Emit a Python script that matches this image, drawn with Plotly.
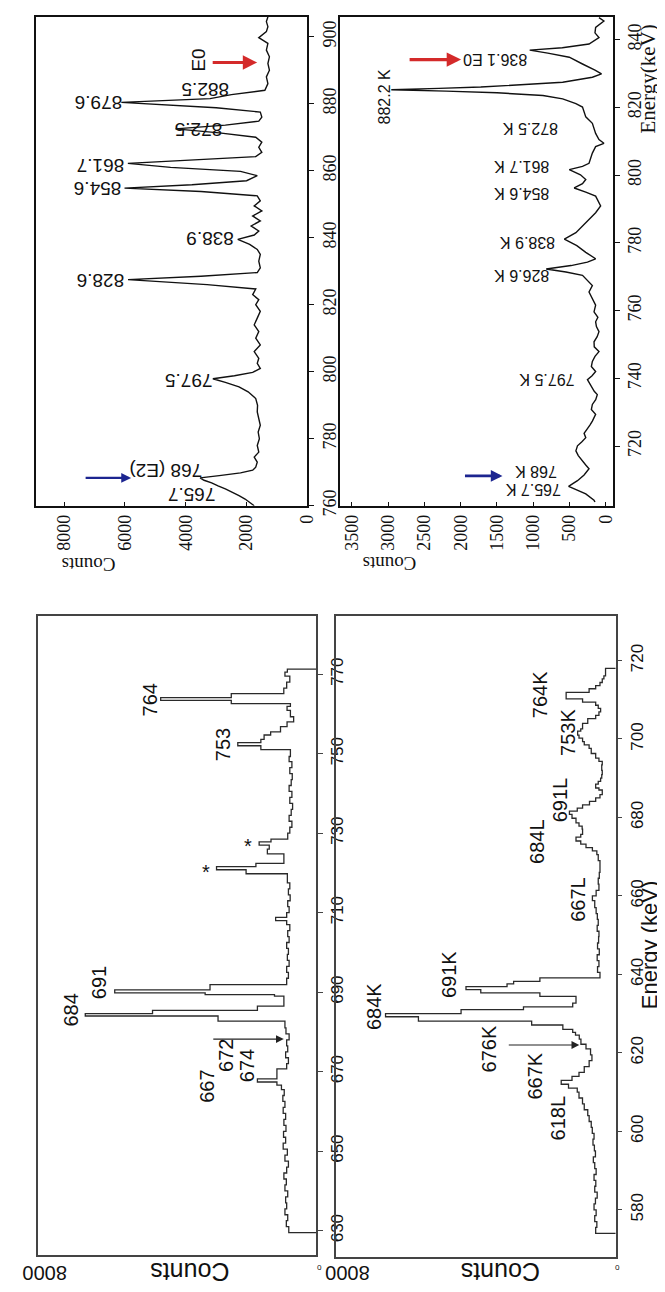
import plotly.graph_objects as go

# ---------------- data ----------------
# Upper-left panel (gamma spectrum, counts vs energy keV)
A_energy = [760.0, 761.0, 762.0, 763.0, 764.0, 765.0, 765.9, 766.8, 767.6, 768.3,
            769.0, 769.8, 770.6, 771.5, 773.0, 774.5, 776.0, 778.0, 780.0, 782.0,
            784.0, 786.0, 788.0, 790.0, 792.0, 794.0, 795.5, 796.8, 797.9, 798.8,
            799.8, 801.0, 802.5, 804.0, 806.0, 808.0, 810.0, 812.0, 814.0, 816.0,
            818.0, 820.0, 821.5, 823.0, 824.7, 826.0, 827.5, 828.5, 829.6, 831.0,
            833.0, 835.0, 836.5, 838.0, 839.5, 840.8, 842.0, 843.5, 845.0, 846.5,
            848.0, 849.5, 851.0, 852.5, 853.8, 854.8, 855.8, 857.0, 858.5, 859.8,
            861.0, 862.2, 863.2, 864.2, 865.5, 867.0, 868.5, 870.0, 871.3, 872.5,
            873.6, 874.8, 876.0, 877.5, 878.8, 880.4, 881.5, 882.7, 884.0, 886.0,
            888.0, 890.0, 892.0, 894.0, 896.0, 898.0, 899.7, 901.5, 903.0, 904.5,
            905.9]
A_counts = [1750, 1900, 2050, 2250, 2450, 2700, 2940, 3150, 3400, 3530,
            2900, 2200, 1800, 1700, 1650, 1750, 1600, 1650, 1580, 1620,
            1550, 1600, 1650, 1640, 1700, 1950, 2250, 2700, 3110, 2400,
            1800, 1550, 1650, 1600, 1750, 1550, 1700, 1600, 1750, 1650,
            1550, 1700, 1600, 1800, 1700, 3300, 5900, 3500, 1650, 1550,
            1600, 1550, 1650, 1900, 2290, 1750, 1600, 1850, 1550, 1800,
            1500, 1750, 1550, 1650, 3500, 6015, 3800, 2000, 1650, 2200,
            4500, 5905, 3600, 1700, 1500, 1600, 1500, 1700, 2900, 4340,
            2700, 1600, 1500, 1550, 3000, 6120, 3200, 2500, 1400, 1300,
            1350, 1250, 1300, 1250, 1350, 1300, 1600, 1350, 1300, 1350,
            1300]

# Upper-right panel (electron spectrum)
B_energy = [703.5, 704.0, 705.9, 707.0, 708.1, 709.0, 709.8, 711.5, 713.3, 714.5,
            715.7, 717.2, 718.6, 720.1, 721.3, 722.5, 723.8, 725.0, 726.2, 727.4,
            728.4, 729.4, 730.8, 732.3, 733.7, 735.2, 736.2, 737.2, 738.4, 739.6,
            740.8, 742.0, 743.5, 745.0, 746.5, 747.9, 749.3, 750.8, 752.3, 753.8,
            755.3, 756.7, 758.0, 759.6, 761.6, 763.5, 765.5, 767.4, 769.4, 770.4,
            771.4, 772.3, 773.3, 774.3, 775.3, 777.2, 779.2, 781.1, 783.0, 786.0,
            788.9, 790.9, 792.3, 793.8, 795.0, 796.2, 797.5, 798.7, 800.1, 801.6,
            802.6, 803.5, 806.5, 808.4, 809.4, 810.5, 812.3, 815.3, 817.2, 818.5,
            820.1, 821.1, 822.5, 823.5, 824.3, 824.8, 825.2, 825.6, 826.0, 827.4,
            828.9, 829.9, 831.0, 832.8, 834.8, 836.0, 836.9, 837.6, 838.7, 840.6,
            842.0, 843.6, 845.5, 846.5]
B_counts = [150, 163, 277, 400, 513, 450, 391, 300, 232, 280,
            322, 380, 413, 391, 330, 277, 300, 254, 220, 186,
            160, 141, 200, 186, 140, 118, 160, 186, 220, 254,
            190, 141, 200, 186, 150, 95, 160, 163, 120, 95,
            130, 141, 110, 163, 141, 186, 232, 186, 277, 322,
            550, 822, 480, 254, 141, 277, 400, 572, 413, 277,
            141, 72, 100, 141, 277, 436, 322, 277, 350, 504,
            322, 232, 186, 141, 27, 95, 141, 186, 277, 300,
            322, 413, 595, 867, 1500, 2200, 2956, 2300, 1723, 595,
            186, 60, 150, 322, 504, 800, 1049, 600, 232, 95,
            150, 141, 27, 95]

# Lower-left panel (histogram: bin start energies, counts)
C_bin_start = [629.5, 631.0, 632.5, 634.0, 635.5, 637.0, 638.5, 640.0, 641.5, 643.0,
               644.5, 646.0, 647.5, 649.0, 650.5, 652.0, 653.5, 655.0, 656.5, 658.0,
               659.5, 661.0, 662.5, 664.0, 665.5, 666.6, 667.4, 668.2, 670.7, 672.0,
               673.5, 675.0, 676.5, 678.0, 679.5, 681.0, 682.7, 684.0, 684.6, 685.4,
               686.5, 689.0, 689.4, 689.8, 690.6, 691.9, 693.5, 695.0, 696.5, 698.0,
               699.5, 701.0, 702.5, 704.0, 705.5, 707.0, 708.0, 708.8, 710.0, 711.5,
               713.0, 714.5, 716.0, 717.5, 719.8, 720.8, 721.6, 722.4, 724.8, 726.0,
               727.0, 727.8, 728.5, 730.0, 731.5, 733.0, 734.5, 736.0, 737.5, 739.0,
               740.5, 742.0, 743.5, 745.0, 746.5, 748.0, 749.3, 751.0, 752.0, 752.8,
               753.6, 754.7, 755.5, 756.8, 758.0, 759.3, 760.9, 761.9, 762.6, 763.4,
               764.1, 765.1, 766.5, 768.0, 769.5, 770.5]
C_counts = [790, 860, 820, 900, 850, 880, 820, 900, 860, 930,
            850, 800, 900, 830, 950, 880, 940, 870, 930, 880,
            950, 900, 960, 920, 1000, 1130, 1690, 1130, 850, 800,
            880, 820, 850, 780, 870, 900, 2820, 6630, 4700, 1690,
            930, 1200, 3190, 5785, 3050, 850, 800, 850, 780, 830,
            800, 850, 780, 820, 760, 850, 1167, 850, 780, 820,
            750, 800, 760, 830, 2015, 2863, 1733, 930, 1404, 1350,
            1640, 1300, 820, 760, 700, 780, 720, 680, 760, 700,
            780, 720, 690, 760, 700, 780, 743, 1591, 2253, 1591,
            1498, 1310, 1027, 839, 650, 743, 839, 743, 2440, 4466,
            2440, 933, 850, 760, 900, 830]
C_end = 771.3

# Lower-right panel (histogram)
D_bin_start = [574.0, 575.5, 577.0, 578.5, 580.0, 581.5, 583.0, 584.5, 586.0, 587.5,
               589.0, 590.5, 592.0, 593.5, 595.0, 596.5, 598.0, 599.5, 601.0, 602.5,
               604.0, 605.5, 607.0, 608.5, 610.0, 611.0, 612.0, 613.0, 614.0, 615.0,
               616.5, 618.0, 619.5, 621.0, 622.2, 623.5, 624.5, 625.2, 626.0, 627.1,
               628.1, 629.2, 630.0, 631.0, 631.7, 632.7, 634.4, 635.3, 636.1, 636.9,
               637.6, 638.2, 639.1, 640.5, 642.0, 643.5, 645.0, 646.5, 648.0, 649.6,
               651.0, 652.5, 654.0, 655.5, 657.0, 658.8, 660.0, 661.4, 663.0, 664.5,
               666.0, 667.3, 669.0, 670.5, 671.5, 672.3, 673.2, 674.0, 675.0, 675.7,
               677.0, 677.8, 678.6, 679.8, 680.8, 681.6, 682.4, 683.2, 684.1, 685.0,
               685.8, 687.0, 687.5, 688.5, 689.2, 690.0, 690.9, 692.0, 693.4, 694.3,
               695.1, 696.3, 697.6, 698.5, 699.3, 700.2, 701.0, 702.0, 702.6, 704.0,
               705.2, 706.0, 706.9, 707.8, 708.6, 709.4, 710.2, 711.1, 711.9, 712.8,
               713.6, 714.4, 715.3, 716.1, 717.1]
D_counts = [573, 540, 600, 560, 620, 580, 530, 600, 570, 620,
            560, 600, 640, 580, 610, 650, 620, 670, 700, 760,
            800, 900, 950, 1050, 1100, 1350, 1559, 1250, 1050, 900,
            760, 680, 720, 850, 995, 1042, 1150, 1230, 1512, 2404,
            5643, 6583, 4423, 2638, 1230, 1136, 2169, 3859, 4282, 3108,
            2920, 2169, 450, 520, 480, 530, 470, 520, 490, 479,
            530, 500, 526, 560, 600, 667, 560, 480, 500, 470,
            450, 450, 500, 540, 667, 850, 1000, 1136, 1000, 948,
            960, 1050, 1136, 1250, 1324, 1100, 948, 750, 573, 450,
            385, 480, 573, 500, 432, 400, 385, 400, 385, 480,
            573, 700, 761, 900, 948, 1050, 1089, 1000, 948, 800,
            573, 480, 432, 500, 573, 948, 1418, 1418, 761, 573,
            450, 385, 338, 291, 291]
D_end = 718.0

# Tick values
A_energy_ticks = [760, 780, 800, 820, 840, 860, 880, 900]
A_count_ticks = [0, 2000, 4000, 6000, 8000]
B_energy_ticks = [720, 740, 760, 780, 800, 820, 840]
B_count_ticks = [0, 500, 1000, 1500, 2000, 2500, 3000, 3500]
C_energy_ticks = [630, 650, 670, 690, 710, 730, 750, 770]
D_energy_ticks = [580, 600, 620, 640, 660, 680, 700, 720]
CD_count_ticks = [0, 8000]

# Peak labels: text, counts (label centre), energy (label centre), angle
A_labels = [("879.6", 6883, 880.4, 180), ("882.5", 3368, 884.3, 180),
            ("E0", 3595, 892.9, -90), ("872.5", 3579, 872.5, 180),
            ("861.7", 6818, 861.5, 180), ("854.6", 6899, 854.7, 180),
            ("838.9", 3223, 839.6, 180), ("828.6", 6802, 827.2, 180),
            ("797.5", 3903, 797.6, 180), ("768 (E2)", 4664, 770.7, 180),
            ("765.7", 3806, 763.3, 180)]
B_labels = [("882.2 K", 3052, 823.0, -90), ("826.6 K", 1160, 770.3, 180),
            ("838.9 K", 1072, 780.3, 180), ("854.6 K", 1153, 794.6, 180),
            ("861.7 K", 1153, 802.5, 180), ("872.5 K", 1031, 813.7, 180),
            ("836.1 E0", 1519, 834.1, 180), ("797.5 K", 814, 739.6, 180),
            ("768 K", 963, 712.3, 180), ("765.7 K", 1004, 707.2, 180)]
C_labels = [("764", 4777, 763.6, -90), ("753", 2671, 752.2, -90),
            ("*", 3166, 720.3, 0), ("*", 1951, 726.8, 0),
            ("684", 7025, 685.5, -90), ("691", 6233, 692.3, -90),
            ("667", 3124, 666.3, -90), ("672", 2587, 674.0, -90),
            ("674", 1993, 671.6, -90)]
D_labels = [("764K", 2169, 711.4, -90), ("753K", 1366, 701.8, -90),
            ("691L", 1606, 684.5, -90), ("684L", 2254, 674.0, -90),
            ("667L", 1085, 659.2, -90), ("684K", 6915, 631.9, -90),
            ("691K", 4761, 639.9, -90), ("676K", 3620, 620.9, -90),
            ("667K", 2310, 614.2, -90), ("618L", 1648, 603.3, -90)]

# Arrows: axis suffix, head counts, head energy, tail offset px, colour, width
arrows = [("", 1652, 892.3, -46, "#d42a2a", 3.2),
          ("", 5798, 768.3, -47, "#1c2590", 2.2),
          ("2", 1994, 834.1, -53, "#d42a2a", 3.2),
          ("2", 1424, 711.2, -39, "#1c2590", 2.6),
          ("3", 933, 678.2, -72, "#222222", 1.2),
          ("4", 1042, 622.0, -72, "#222222", 1.2)]

# ---------------- figure ----------------
W, H = 665, 1292
SERIF = "Liberation Serif"
SANS = "Liberation Sans"


def fx(p):
    return p / W


def fy(p):
    return 1 - p / H


fig = go.Figure()
fig.add_trace(go.Scatter(x=A_counts, y=A_energy, mode="lines",
                         line=dict(color="#111111", width=1.4),
                         xaxis="x", yaxis="y", hoverinfo="skip"))
fig.add_trace(go.Scatter(x=B_counts, y=B_energy, mode="lines",
                         line=dict(color="#111111", width=1.4),
                         xaxis="x2", yaxis="y2", hoverinfo="skip"))
fig.add_trace(go.Scatter(x=[0] + C_counts + [0],
                         y=[C_bin_start[0]] + C_bin_start + [C_end],
                         mode="lines", line=dict(color="#2a2a2a", width=1.3, shape="vh"),
                         xaxis="x3", yaxis="y3", hoverinfo="skip"))
fig.add_trace(go.Scatter(x=[0] + D_counts + [0],
                         y=[D_bin_start[0]] + D_bin_start + [D_end],
                         mode="lines", line=dict(color="#2a2a2a", width=1.3, shape="vh"),
                         xaxis="x4", yaxis="y4", hoverinfo="skip"))


def xax(domain, rng, tickvals, anchor, family, size, angle, color, labels=True):
    return dict(domain=domain, range=rng, tickvals=tickvals, anchor=anchor,
                showgrid=False, zeroline=False, showline=True, mirror=True,
                linecolor=color, linewidth=1.5, ticks="inside", ticklen=4,
                tickcolor=color, tickangle=angle, showticklabels=labels,
                tickfont=dict(family=family, size=size, color="#111111"))


def yax(domain, rng, tickvals, anchor, family, size, color):
    return dict(domain=domain, range=rng, tickvals=tickvals, anchor=anchor,
                side="right", showgrid=False, zeroline=False, showline=True,
                mirror=True, linecolor=color, linewidth=1.5, ticks="outside",
                ticklen=5, tickcolor=color, tickangle=-90,
                tickfont=dict(family=family, size=size, color="#111111"))


fig.update_layout(
    width=W, height=H, margin=dict(l=0, r=0, t=0, b=0),
    paper_bgcolor="white", plot_bgcolor="white", showlegend=False,
    xaxis=xax([fx(28), fx(304)], [8940, 0], A_count_ticks, "y", SERIF, 18, -90, "#111111"),
    yaxis=yax([fy(502), fy(9)], [760, 905.9], A_energy_ticks, "x", SERIF, 18, "#111111"),
    xaxis2=xax([fx(337), fx(614)], [3663, -95], B_count_ticks, "y2", SERIF, 18, -90, "#111111"),
    yaxis2=yax([fy(502), fy(9)], [702.4, 846.7], B_energy_ticks, "x2", SERIF, 18, "#111111"),
    xaxis3=xax([fx(30), fx(313)], [8000, 0], CD_count_ticks, "y3", SANS, 21, 180, "#444444", False),
    yaxis3=yax([fy(1258), fy(613)], [623.8, 784.7], C_energy_ticks, "x3", SANS, 17, "#444444"),
    xaxis4=xax([fx(333), fx(617)], [8000, 0], CD_count_ticks, "y4", SANS, 21, 180, "#444444", False),
    yaxis4=yax([fy(1260), fy(613)], [567.9, 731.4], D_energy_ticks, "x4", SANS, 17, "#444444"),
)

annotations = []


def add_labels(labels, suffix, family, size):
    for text, c, e, ang in labels:
        annotations.append(dict(text=text, x=c, y=e, xref="x" + suffix, yref="y" + suffix,
                                showarrow=False, textangle=ang, xanchor="center",
                                yanchor="middle", font=dict(family=family, size=size,
                                                            color="#111111")))


add_labels(A_labels, "", SANS, 19)
add_labels(B_labels, "2", SANS, 16)
add_labels(C_labels, "3", SANS, 20)
add_labels(D_labels, "4", SANS, 20)

for suffix, c, e, tail, col, wdt in arrows:
    annotations.append(dict(text="", x=c, y=e, xref="x" + suffix, yref="y" + suffix,
                            showarrow=True, ax=tail, ay=0, arrowcolor=col,
                            arrowwidth=wdt, arrowhead=2, arrowsize=0.9 if wdt > 2 else 1.3))

# lower-panel count tick labels (upside down), placed at the axis ends
count_tick_labels = [("8000", 37, 1276, 20), ("0", 316, 1271, 8),
                     ("8000", 344, 1276, 20), ("0", 618, 1271, 8)]
for text, px, py, size in count_tick_labels:
    annotations.append(dict(text=text, x=fx(px), y=fy(py), xref="paper", yref="paper",
                            showarrow=False, textangle=180, xanchor="center",
                            yanchor="middle", font=dict(family=SANS, size=size, color="#111111")))

titles = [("Counts", 82, 562, 180, SERIF, 19),
          ("Counts", 387, 561, 180, SERIF, 19),
          ("Energy(keV)", 650, 72, -90, SERIF, 21),
          ("Counts", 185, 1275, 180, SANS, 25),
          ("Counts", 500, 1275, 180, SANS, 25),
          ("Energy (keV)", 652, 945, -90, SANS, 22)]
for text, px, py, ang, fam, size in titles:
    annotations.append(dict(text=text, x=fx(px), y=fy(py), xref="paper", yref="paper",
                            showarrow=False, textangle=ang, xanchor="center",
                            yanchor="middle", font=dict(family=fam, size=size, color="#111111")))

fig.update_layout(annotations=annotations)
fig.write_html("out.html")
